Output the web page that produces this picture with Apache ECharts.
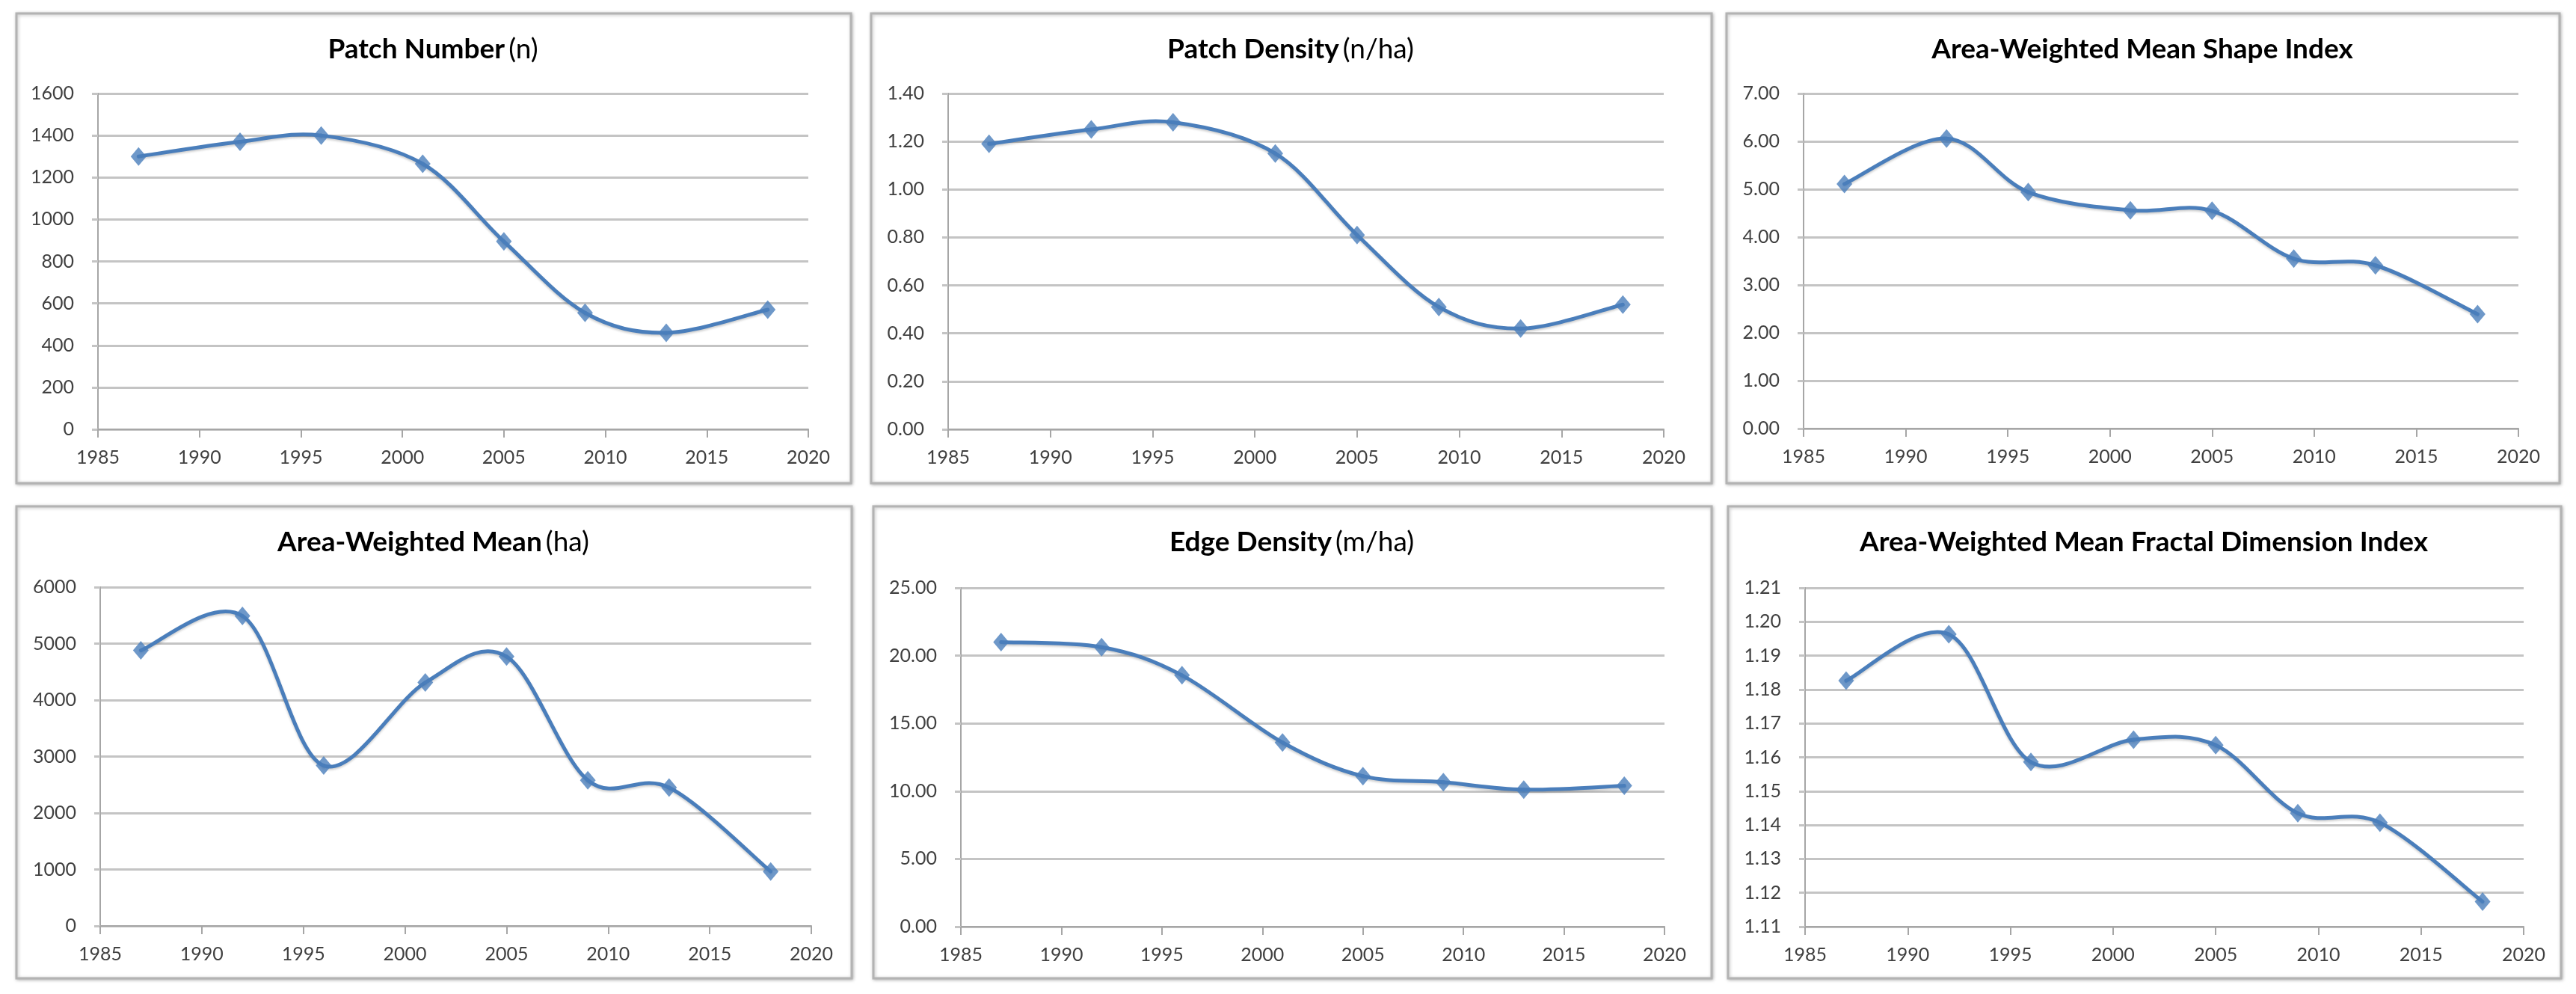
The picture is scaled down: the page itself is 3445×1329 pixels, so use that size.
<!DOCTYPE html>
<html>
<head>
<meta charset="utf-8">
<script src="https://cdn.jsdelivr.net/npm/echarts@6/dist/echarts.min.js"></script>
<style>
  html, body { margin: 0; padding: 0; background: #ffffff; }
  #chart { width: 3445px; height: 1329px; }
</style>
</head>
<body>
<div id="chart"></div>
<script>
// ---- data ----
const years = [1987, 1992, 1996, 2001, 2005, 2009, 2013, 2018];
const patchNumber = [1300, 1370, 1400, 1265, 895, 555, 460, 570];
const patchDensity = [1.19, 1.25, 1.28, 1.15, 0.81, 0.51, 0.42, 0.52];
const awMeanShapeIndex = [5.11, 6.06, 4.94, 4.56, 4.55, 3.55, 3.41, 2.39];
const awMean = [4880, 5490, 2840, 4310, 4770, 2580, 2450, 965];
const edgeDensity = [21.0, 20.63, 18.55, 13.59, 11.11, 10.66, 10.11, 10.40];
const awMeanFractal = [1.1826, 1.1963, 1.1586, 1.1652, 1.1636, 1.1435, 1.1407, 1.1174];

const titlesBold = ['Patch Number', 'Patch Density', 'Area-Weighted Mean Shape Index',
                    'Area-Weighted Mean', 'Edge Density', 'Area-Weighted Mean Fractal Dimension Index'];
const titlesUnit = ['(n)', '(n/ha)', '', '(ha)', '(m/ha)', ''];
const seriesValues = [patchNumber, patchDensity, awMeanShapeIndex, awMean, edgeDensity, awMeanFractal];
const yMin = [0, 0, 0, 0, 0, 1.11];
const yMax = [1600, 1.4, 7, 6000, 25, 1.21];
const yStep = [200, 0.2, 1, 1000, 5, 0.01];
const yDecimals = [0, 2, 2, 0, 2, 2];
const xMin = 1985, xMax = 2020, xStep = 5;

// ---- layout (pixels) ----
const panels = [
  {x0: 22,   y0: 18,  x1: 1138, y1: 646},
  {x0: 1165, y0: 18,  x1: 2289, y1: 646},
  {x0: 2309, y0: 18,  x1: 3423, y1: 646},
  {x0: 22,   y0: 677, x1: 1139, y1: 1308},
  {x0: 1168, y0: 677, x1: 2289, y1: 1308},
  {x0: 2311, y0: 677, x1: 3425, y1: 1308}
];
const plots = [
  {l: 131,  r: 1081, t: 125, b: 574},
  {l: 1268, r: 2225, t: 125, b: 574},
  {l: 2412, r: 3368, t: 125, b: 573},
  {l: 134,  r: 1085, t: 785, b: 1238},
  {l: 1285, r: 2226, t: 786, b: 1239},
  {l: 2414, r: 3375, t: 786, b: 1239}
];

const W = 3445, H = 1329;
const lineColor = '#4a7ebb';
const gridColor = '#c4c4c4';
const axisColor = '#a6a6a6';
const labelColor = '#404040';
const fontFam = 'Lato, "Liberation Sans", sans-serif';

const option = {
  backgroundColor: '#ffffff',
  animation: false,
  title: [],
  grid: [],
  xAxis: [],
  yAxis: [],
  series: [],
  graphic: []
};

// Excel-style smoothed segment between point i and i+1 (Catmull-Rom in screen space)
function makeRenderItem(vals) {
  return function (params, api) {
    const i = params.dataIndex;
    const n = years.length;
    if (i >= n - 1) return null;
    const P = k => api.coord([years[Math.max(0, Math.min(n - 1, k))], vals[Math.max(0, Math.min(n - 1, k))]]);
    const p0 = P(i - 1), p1 = P(i), p2 = P(i + 1), p3 = P(i + 2);
    const c1x = p1[0] + (p2[0] - p0[0]) / 6, c1y = p1[1] + (p2[1] - p0[1]) / 6;
    const c2x = p2[0] - (p3[0] - p1[0]) / 6, c2y = p2[1] - (p3[1] - p1[1]) / 6;
    return {
      type: 'bezierCurve',
      shape: {x1: p1[0], y1: p1[1], x2: p2[0], y2: p2[1], cpx1: c1x, cpy1: c1y, cpx2: c2x, cpy2: c2y},
      style: {stroke: lineColor, lineWidth: 5, fill: null, lineCap: 'round',
              shadowBlur: 3, shadowColor: 'rgba(0,0,0,0.2)', shadowOffsetY: 2}
    };
  };
}

panels.forEach((p, i) => {
  option.graphic.push({
    type: 'rect',
    shape: {x: p.x0, y: p.y0, width: p.x1 - p.x0, height: p.y1 - p.y0},
    style: {fill: '#ffffff', stroke: '#b3b3b3', lineWidth: 3,
            shadowBlur: 4, shadowColor: 'rgba(0,0,0,0.25)', shadowOffsetX: 1, shadowOffsetY: 1},
    z: -10, silent: true
  });
  const cx = (p.x0 + p.x1) / 2 - 6;
  option.title.push({
    text: titlesUnit[i] ? '{b|' + titlesBold[i] + '} {n|' + titlesUnit[i] + '}' : '{b|' + titlesBold[i] + '}',
    left: cx, top: p.y0 + 25, textAlign: 'center',
    textStyle: {
      rich: {
        b: {fontFamily: fontFam, fontWeight: 'bold', fontSize: 37, color: '#000000'},
        n: {fontFamily: fontFam, fontWeight: 'normal', fontSize: 37, color: '#000000'}
      }
    }
  });
  const pl = plots[i];
  option.grid.push({left: pl.l, top: pl.t, width: pl.r - pl.l, height: pl.b - pl.t, containLabel: false});
  option.xAxis.push({
    type: 'value', gridIndex: i, min: xMin, max: xMax, interval: xStep,
    axisLine: {show: true, onZero: false, lineStyle: {color: axisColor, width: 2}},
    axisTick: {show: true, length: 11, lineStyle: {color: axisColor, width: 2}},
    axisLabel: {margin: 25, color: labelColor, fontSize: 25, fontFamily: fontFam, formatter: v => String(v)},
    splitLine: {show: false}
  });
  option.yAxis.push({
    type: 'value', gridIndex: i, min: yMin[i], max: yMax[i], interval: yStep[i],
    axisLine: {show: true, lineStyle: {color: axisColor, width: 2}},
    axisTick: {show: true, length: 8, lineStyle: {color: gridColor, width: 3}},
    axisLabel: {margin: 32, color: labelColor, fontSize: 25, fontFamily: fontFam,
                formatter: v => Number(v).toFixed(yDecimals[i])},
    splitLine: {show: true, lineStyle: {color: gridColor, width: 3}}
  });
  const pts = years.map((y, k) => [y, seriesValues[i][k]]);
  option.series.push({
    type: 'custom', xAxisIndex: i, yAxisIndex: i,
    renderItem: makeRenderItem(seriesValues[i]),
    data: pts, z: 4, silent: true
  });
  option.series.push({
    type: 'scatter', xAxisIndex: i, yAxisIndex: i,
    data: pts,
    symbol: 'diamond', symbolSize: [21, 25],
    itemStyle: {color: lineColor},
    z: 5
  });
});

const chart = echarts.init(document.getElementById('chart'), null, {renderer: 'canvas', width: W, height: H});
chart.setOption(option);
</script>
</body>
</html>
